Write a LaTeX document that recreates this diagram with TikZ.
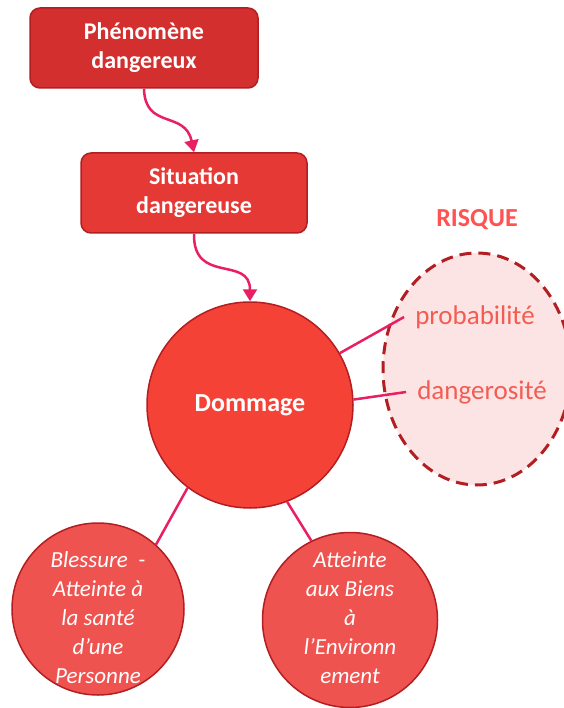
\documentclass[tikz,border=0pt]{standalone}
\usepackage{fontspec}
\setmainfont{Carlito}
\usepackage{tikz}
\usetikzlibrary{shapes.geometric, arrows.meta}
\usepackage{xcolor}

\definecolor{rougeA}{RGB}{211,47,47}
\definecolor{rougeB}{RGB}{229,57,53}
\definecolor{rougeC}{RGB}{244,67,54}
\definecolor{rougeD}{RGB}{239,83,80}
\definecolor{bordRouge}{RGB}{178,30,34}
\definecolor{roseLien}{RGB}{233,30,99}
\definecolor{roseFond}{RGB}{253,228,228}
\definecolor{saumon}{RGB}{242,92,82}
\definecolor{titreRouge}{RGB}{255,82,82}

\begin{document}
\begin{tikzpicture}[x=1pt, y=-1pt,
        boite/.style={draw=bordRouge, line width=1.5pt, rounded corners=10pt, minimum width=228pt, minimum height=80pt, align=center, text=white, font=\fontsize{24}{29}\selectfont\bfseries},
        bulle/.style={circle, draw=bordRouge, line width=1.5pt, fill=rougeD, inner sep=0pt},
        texteBulle/.style={align=center, text=white, font=\fontsize{23}{29}\selectfont\itshape},
        lien/.style={draw=roseLien, line width=2.5pt},
        fleche/.style={lien, -{Triangle[length=12pt, width=14pt]}}]
    \useasboundingbox (0,0) rectangle (563,708);

    % Boîtes
    \node[boite, fill=rougeA] (phenomene) at (144,48) {Phénomène\\dangereux};
    \node[boite, fill=rougeB, minimum width=226pt] (situation) at (194,193) {Situation\\dangereuse};

    % Cercle central
    \node[circle, draw=bordRouge, line width=1.5pt, fill=rougeC, minimum size=206pt, inner sep=0pt, text=white, font=\fontsize{26}{31}\selectfont\bfseries] (dommage) at (250,405) {Dommage};

    % Conséquences
    \node[bulle, minimum size=172pt] (blessure) at (98,609) {};
    \node[texteBulle] (txtBlessure) at (98,618) {Blessure~ -\\Atteinte à\\la santé\\d’une\\Personne};
    \node[bulle, minimum size=175pt] (biens) at (350,620) {};
    \node[texteBulle] (txtBiens) at (350,618) {Atteinte\\aux Biens\\à\\l’Environn\\ement};

    % Risque
    \node[ellipse, draw=bordRouge, line width=3pt, dash pattern=on 12pt off 7pt, fill=roseFond, minimum width=188pt, minimum height=232pt] (risque) at (477,369) {};
    \node[font=\fontsize{26}{31}\selectfont\bfseries, text=titreRouge] (titre) at (477,220) {RISQUE};
    \node[font=\fontsize{27}{32}\selectfont, text=saumon, inner sep=11pt] (proba) at (475,317) {probabilité};
    \node[font=\fontsize{27}{32}\selectfont, text=saumon, inner sep=11pt] (danger) at (482,392) {dangerosité};

    % Flèches
    \draw[fleche] (phenomene.south) .. controls (145,130) and (185,110) .. (situation.north);
    \draw[fleche] (situation.south) .. controls (193,285) and (250,255) .. (dommage.north);

    % Liens
    \draw[lien] (dommage.30) -- (proba.west);
    \draw[lien] (dommage.3) -- (danger.west);
    \draw[lien] (dommage.233) -- (blessure.48);
    \draw[lien] (dommage.291) -- (biens.116);
\end{tikzpicture}
\end{document}
